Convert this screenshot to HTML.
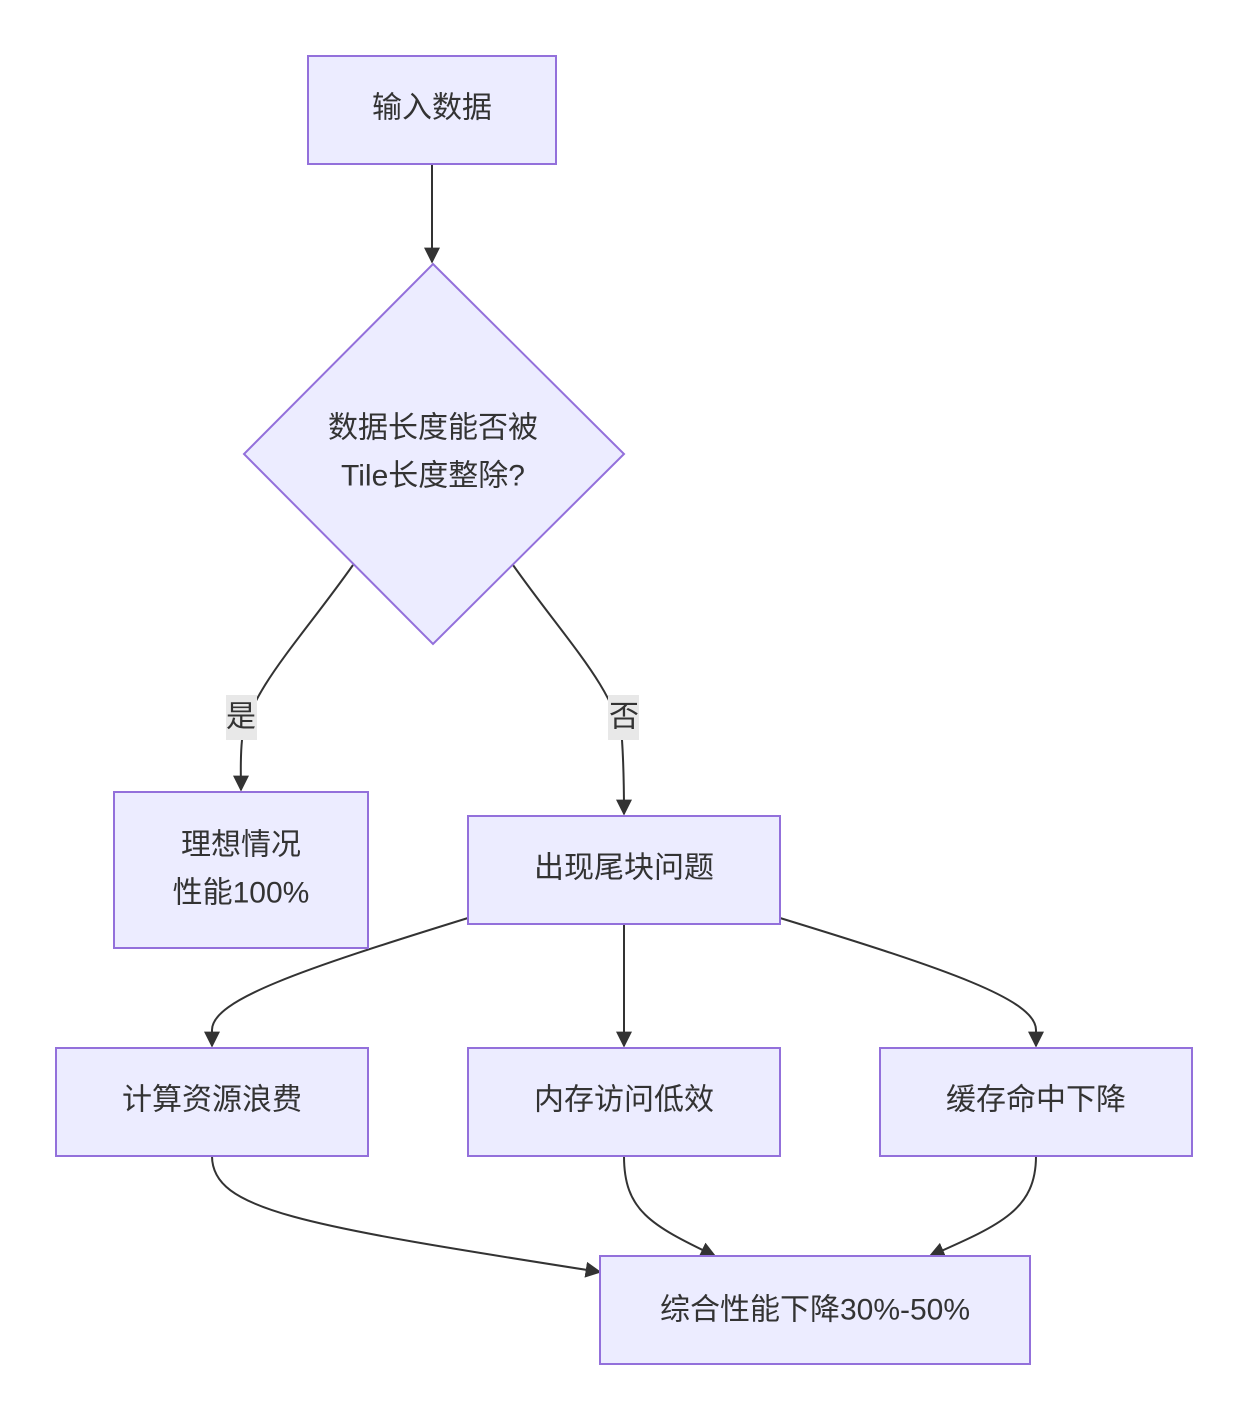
<!DOCTYPE html>
<html><head><meta charset="utf-8"><style>
html,body{margin:0;padding:0;background:#fff;}
svg{display:block;}
text{font-family:"Liberation Sans","Noto Sans CJK SC",sans-serif;font-size:30px;fill:#333;text-anchor:middle;dominant-baseline:central;}
.n{fill:#ECECFF;stroke:#9370DB;stroke-width:2;}
.e{fill:none;stroke:#333;stroke-width:2;}
</style></head><body>
<svg width="1248" height="1420" viewBox="0 0 1248 1420" xmlns="http://www.w3.org/2000/svg">
<defs><marker id="a" viewBox="0 0 10 10" refX="9" refY="5" markerWidth="8" markerHeight="8" markerUnits="userSpaceOnUse" orient="auto"><path d="M0,0L10,5L0,10z" fill="#333"/></marker>
<marker id="b" viewBox="0 0 10 10" refX="9" refY="5" markerWidth="16" markerHeight="16" markerUnits="userSpaceOnUse" orient="auto"><path d="M0,0L10,5L0,10z" fill="#333"/></marker></defs>
<!-- edges -->
<path class="e" d="M432,164 L432,262" marker-end="url(#b)"/>
<path class="e" d="M353,565 C300,640 250,690 242,740 C240,760 241,775 241,790" marker-end="url(#b)"/>
<path class="e" d="M513,565 C566,640 616,690 622,740 C624,770 624,795 624,814" marker-end="url(#b)"/>
<path class="e" d="M468,918 C300,970 212,1000 212,1030 L212,1046" marker-end="url(#b)"/>
<path class="e" d="M624,924 L624,1046" marker-end="url(#b)"/>
<path class="e" d="M780,918 C950,970 1036,1000 1036,1030 L1036,1046" marker-end="url(#b)"/>
<path class="e" d="M212,1156 C212,1210 300,1225 600,1272" marker-end="url(#b)"/>
<path class="e" d="M624,1156 C624,1210 650,1225 715,1256" marker-end="url(#b)"/>
<path class="e" d="M1036,1156 C1036,1210 1000,1225 930,1256" marker-end="url(#b)"/>
<!-- labels -->
<rect x="226" y="695" width="31" height="45" fill="#e8e8e8"/>
<text x="241" y="717">是</text>
<rect x="608" y="695" width="31" height="45" fill="#e8e8e8"/>
<text x="624" y="717">否</text>
<!-- nodes -->
<rect class="n" x="308" y="56" width="248" height="108"/>
<text x="432" y="108">输入数据</text>
<polygon class="n" points="433,264 624,454 433,644 244,454"/>
<text x="433" y="428">数据长度能否被</text>
<text x="433" y="476">Tile长度整除?</text>
<rect class="n" x="114" y="792" width="254" height="156"/>
<text x="241" y="845">理想情况</text>
<text x="241" y="893">性能100%</text>
<rect class="n" x="468" y="816" width="312" height="108"/>
<text x="624" y="868">出现尾块问题</text>
<rect class="n" x="56" y="1048" width="312" height="108"/>
<text x="212" y="1100">计算资源浪费</text>
<rect class="n" x="468" y="1048" width="312" height="108"/>
<text x="624" y="1100">内存访问低效</text>
<rect class="n" x="880" y="1048" width="312" height="108"/>
<text x="1036" y="1100">缓存命中下降</text>
<rect class="n" x="600" y="1256" width="430" height="108"/>
<text x="815" y="1310">综合性能下降30%-50%</text>
</svg>
</body></html>
